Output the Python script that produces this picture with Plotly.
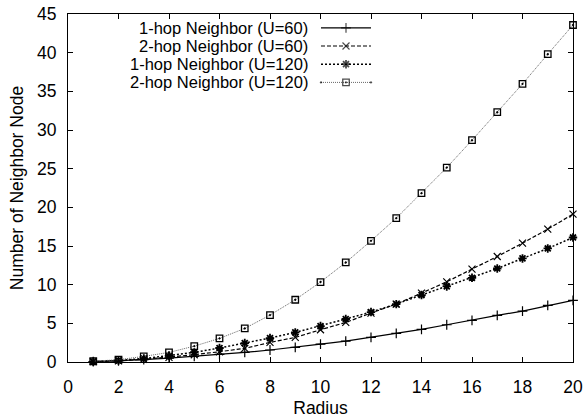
import plotly.graph_objects as go

radius = list(range(1, 21))
hop1_u60 = [0.05, 0.15, 0.3, 0.5, 0.72, 0.98, 1.24, 1.55, 1.89, 2.32,
            2.71, 3.18, 3.70, 4.21, 4.82, 5.37, 6.02, 6.59, 7.31, 7.96]
hop2_u60 = [0.05, 0.15, 0.35, 0.6, 0.94, 1.33, 1.76, 2.53, 3.18, 4.17,
            5.12, 6.33, 7.49, 8.91, 10.37, 12.02, 13.64, 15.37, 17.18, 19.12]
hop1_u120 = [0.05, 0.2, 0.45, 0.8, 1.24, 1.81, 2.45, 3.1, 3.83, 4.65,
             5.56, 6.46, 7.49, 8.66, 9.77, 10.89, 12.09, 13.39, 14.68, 16.1]
hop2_u120 = [0.1, 0.3, 0.72, 1.24, 2.05, 3.05, 4.34, 6.07, 8.05, 10.34,
             12.87, 15.67, 18.6, 21.83, 25.14, 28.68, 32.3, 35.96, 39.8, 43.58]

series_names = ["1-hop Neighbor (U=60)", "2-hop Neighbor (U=60)",
                "1-hop Neighbor (U=120)", "2-hop Neighbor (U=120)"]
x_ticks = list(range(0, 21, 2))
y_ticks = list(range(0, 46, 5))

FONT = "Liberation Sans, Arial, sans-serif"
FS = 17.5
LFS = 16.5
styles = [
    dict(line=dict(color="black", width=1.2, dash="solid"),
         marker=dict(symbol="cross-thin", size=7, line=dict(color="black", width=1.2))),
    dict(line=dict(color="black", width=1.2, dash="4px,2px"),
         marker=dict(symbol="x-thin", size=7, line=dict(color="black", width=1.2))),
    dict(line=dict(color="black", width=1.5, dash="2px,2px"),
         marker=dict(symbol="asterisk", size=7, line=dict(color="black", width=1.8))),
    dict(line=dict(color="#666666", width=1, dash="1px,1px"),
         marker=dict(symbol="square-open-dot", size=6.5, color="black",
                     line=dict(color="black", width=1.3))),
]
data = [hop1_u60, hop2_u60, hop1_u120, hop2_u120]

fig = go.Figure()
for name, vals, st in zip(series_names, data, styles):
    fig.add_trace(go.Scatter(x=radius, y=vals, mode="lines+markers", name=name,
                             line=st["line"], marker=st["marker"], showlegend=False,
                             cliponaxis=False))

# manual gnuplot-style legend (text then sample)
L, W, T, H = 68, 505, 14, 348
rows_y = [27.8, 46.0, 64.2, 82.4]
text_right = 309
s0, s1, sm = 321, 371, 346
for name, st, ry in zip(series_names, styles, rows_y):
    yp = 1 - (ry - T) / H
    fig.add_annotation(x=(text_right - L) / W, y=yp, xref="paper", yref="paper",
                       text=name, showarrow=False, xanchor="right", yanchor="middle",
                       height=18, valign="middle", borderpad=0,
                       font=dict(family=FONT, size=LFS, color="black"))
    m = dict(st["marker"])
    m["size"] = [0, st["marker"]["size"], 0]
    fig.add_trace(go.Scatter(x=[(s0 - L) / W, (sm - L) / W, (s1 - L) / W], y=[yp] * 3,
                             xaxis="x2", yaxis="y2", mode="lines+markers",
                             line=st["line"], marker=m, showlegend=False,
                             hoverinfo="skip"))

axis_common = dict(showline=True, linecolor="black", linewidth=1.2, mirror="ticks",
                   ticks="inside", ticklen=5, tickwidth=1, tickcolor="black",
                   showgrid=False, zeroline=False, automargin=False,
                   tickfont=dict(family=FONT, size=FS, color="black"))
fig.update_layout(
    width=583, height=418,
    margin=dict(l=L, r=583 - L - W, t=T, b=418 - T - H),
    plot_bgcolor="white", paper_bgcolor="white",
    font=dict(family=FONT, size=FS, color="black"),
    xaxis=dict(range=[0, 20], tickvals=x_ticks, ticklabelstandoff=9,
               title=dict(text="Radius", font=dict(family=FONT, size=FS), standoff=8),
               **axis_common),
    yaxis=dict(range=[0, 45], tickvals=y_ticks, ticklabelstandoff=7,
               title=dict(text="Number of Neighbor Node", font=dict(family=FONT, size=FS),
                          standoff=8),
               **axis_common),
    xaxis2=dict(range=[0, 1], overlaying="x", visible=False, domain=[0, 1]),
    yaxis2=dict(range=[0, 1], overlaying="y", visible=False),
)
fig.write_html("out.html")
